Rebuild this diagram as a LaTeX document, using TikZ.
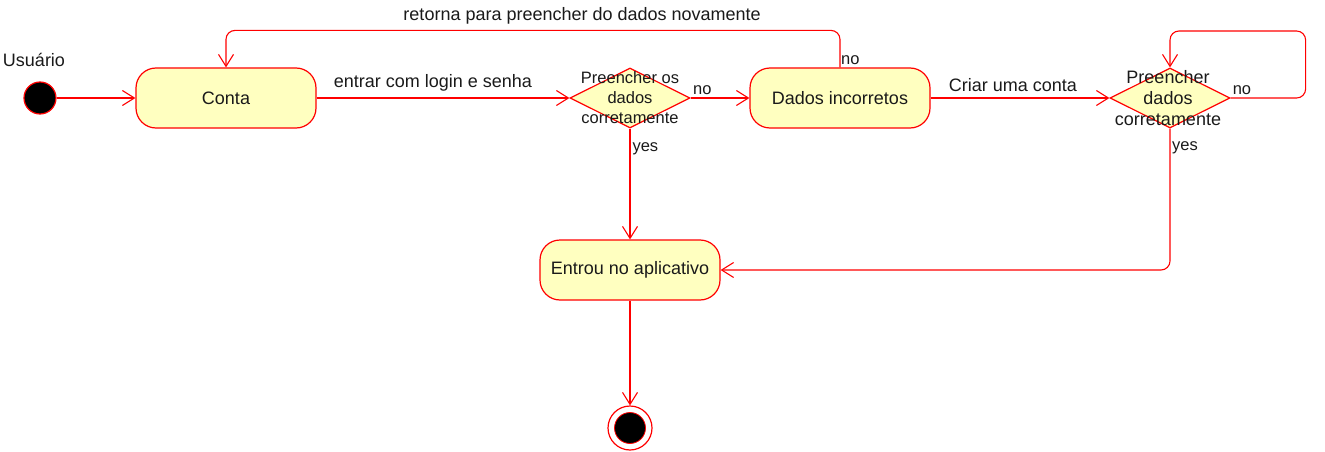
\documentclass[tikz,border=0pt]{standalone}
\usepackage{fontspec}
\setmainfont{Liberation Sans}
\usetikzlibrary{shapes.geometric,arrows.meta}
\definecolor{umlred}{HTML}{FF0000}
\definecolor{umlfill}{HTML}{FFFFC0}
\definecolor{umltext}{HTML}{1A1A1A}

\tikzset{
  state/.style={rectangle, rounded corners=20pt, minimum width=180pt, minimum height=60pt},
  choice/.style={diamond, aspect=2, inner sep=0pt, minimum width=120pt, minimum height=60pt},
  flow/.style={draw=umlred, line width=1.1pt, rounded corners=9pt,
    -{Straight Barb[length=12pt,width=15pt,line width=1.1pt]}},
  lbl/.style={text=umltext, font=\fontsize{16.5}{20}\selectfont, inner sep=2pt},
  biglbl/.style={font=\fontsize{18}{21}\selectfont, yshift=4pt}
}

\begin{document}
\begin{tikzpicture}[x=1pt,y=-1pt,font=\fontsize{18}{21}\selectfont,text=umltext]
  \useasboundingbox (0,0) rectangle (1325,452);

  \begin{scope}[every node/.style={draw=umlred, fill=umlfill, line width=1.2pt}]
    \node[circle, fill=black, minimum size=32pt] (start) at (40,98) {};
    \node[state] (conta) at (226,98) {Conta};
    \node[choice, label={[lbl,align=center]center:Preencher os\\dados\\corretamente}] (check1) at (630,98) {};
    \node[state] (incorretos) at (840,98) {Dados incorretos};
    \node[choice, label={[align=center,xshift=-2pt]center:Preencher\\dados\\corretamente}] (check2) at (1170,98) {};
    \node[state] (entrou) at (630,270) {Entrou no aplicativo};
    \node[circle, fill=white, minimum size=44pt] (final) at (630,428) {};
    \node[circle, fill=black, minimum size=31pt, line width=0.8pt] (final-dot) at (630,428) {};
  \end{scope}

  \node (usuario) at (34,60) {Usuário};

  \begin{scope}[every node/.style={lbl}]
    \draw[flow] (start) -- (conta);
    \draw[flow] (conta) -- node[above, pos=0.46, biglbl] {entrar com login e senha} (check1);
    \draw[flow] (check1) -- node[above right, pos=0, yshift=1pt] {no} (incorretos);
    \draw[flow] (incorretos.north) -- ++(0,-37) -| node[pos=0.21, above, biglbl] {retorna para preencher do dados novamente} (conta.north);
    \node[above right, inner sep=1pt, yshift=2pt] at (incorretos.north) {no};
    \draw[flow] (incorretos) -- node[above, pos=0.46, biglbl] {Criar uma conta} (check2);
    \draw[flow] (check2.east) -| ++(75,-67) -| (check2.north);
    \node[above right, yshift=1pt] at (check2.east) {no};
    \draw[flow] (check1.south) -- node[below right, pos=0, yshift=-11pt] {yes} (entrou.north);
    \draw[flow] (check2.south) |- (entrou.east);
    \node[below right, yshift=-11pt] at (check2.south) {yes};
    \draw[flow] (entrou) -- (final);
  \end{scope}
\end{tikzpicture}
\end{document}
